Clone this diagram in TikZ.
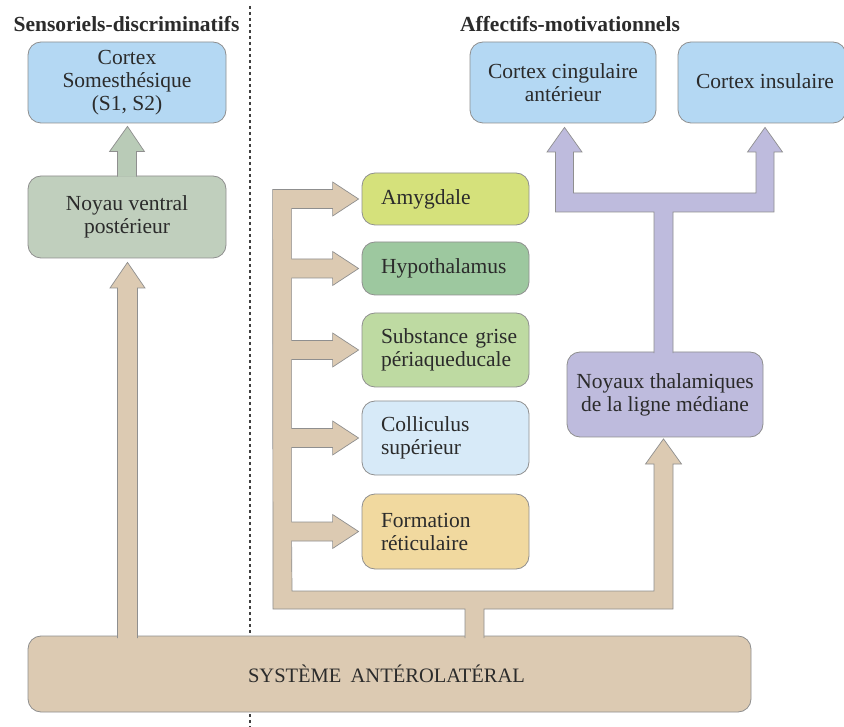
\documentclass[tikz,border=0pt]{standalone}
\usepackage{fontspec}
\setmainfont{Liberation Serif}
\usetikzlibrary{calc}
\definecolor{bluebox}{HTML}{B4D8F3}
\definecolor{nvpgreen}{HTML}{C0CFBD}
\definecolor{greenarrow}{HTML}{B9CBB7}
\definecolor{tanc}{HTML}{DCCAB2}
\definecolor{purplec}{HTML}{BEBBDD}
\definecolor{amyc}{HTML}{D5E17B}
\definecolor{hypc}{HTML}{9DC89F}
\definecolor{pagc}{HTML}{BEDAA2}
\definecolor{colc}{HTML}{D7EAF8}
\definecolor{retc}{HTML}{F1D99F}
\definecolor{bordc}{HTML}{8F8F8F}
\definecolor{txtc}{HTML}{2B2B2B}
\tikzset{
  boxbase/.style={draw=bordc, line width=0.8pt, rounded corners=13pt, inner sep=0pt, text=txtc, align=center},
  leftbox/.style={draw=bordc, line width=0.8pt, rounded corners=13pt, inner xsep=19pt, inner ysep=0pt,
     text width=129pt, align=left, text=txtc, minimum width=167pt},
  blockarrow/.style={draw=bordc, line width=0.7pt, line join=miter},
  titletext/.style={font=\fontsize{21.5}{23}\selectfont\bfseries, text=txtc, inner sep=0pt},
  sepline/.style={draw=black!75, line width=1.7pt, dash pattern=on 3.2pt off 2.8pt}
}
% tan branch towards a box on the right column
\newcommand\tanbranch[2]{-- ($(#1.west)+(#2,-9.5)$) -- ($(#1.west)+(-29,-9.5)$) -- ($(#1.west)+(-29,-17)$) -- ($(#1.west)+(-3,0)$) -- ($(#1.west)+(-29,17)$) -- ($(#1.west)+(-29,9.5)$) -- ($(#1.west)+(-70,9.5)$)}
\begin{document}
\begin{tikzpicture}[x=1pt,y=-1pt,font=\fontsize{21.5}{23}\selectfont]
\useasboundingbox[fill=white] (0,0) rectangle (844,727);

% dotted separator
\draw[sepline] (250,6) -- (250,727);

% titles
\node[titletext] (tleft) at (126.5,24.5) {Sensoriels-discriminatifs};
\node[titletext] (tright) at (570,24.5) {Affectifs-motivationnels};

% left column
\node[boxbase, fill=bluebox, minimum width=198pt, minimum height=81pt] (css) at (127,82.5)
  {Cortex\\Somesthésique\\(S1, S2)};
\node[boxbase, fill=nvpgreen, minimum width=198pt, minimum height=82pt] (nvp) at (127,217)
  {Noyau ventral\\postérieur};

% bottom box
\node[boxbase, fill=tanc, minimum width=723pt, minimum height=76pt] (sys) at (389.5,674) {};
\node[text=txtc, inner sep=0pt, font=\fontsize{20.5}{23}\selectfont] (systxt) at ($(sys.center)+(-3,0)$) {SYSTÈME\hspace{0.45em}ANTÉROLATÉRAL};

% top right cortices
\node[boxbase, fill=bluebox, minimum width=186pt, minimum height=81pt] (cca) at (563,82.5)
  {Cortex cingulaire\\antérieur};
\node[boxbase, fill=bluebox, minimum width=168pt, minimum height=81pt] (cins) at (762,82.5) {};
\node[text=txtc, inner sep=0pt] (cinstxt) at ($(cins.center)+(3,-1)$) {Cortex insulaire};

% thalamic nuclei
\node[boxbase, fill=purplec, minimum width=196pt, minimum height=85pt] (ntm) at (665,394.5)
  {Noyaux thalamiques\\de la ligne médiane};

% middle column
\node[leftbox, fill=amyc, minimum height=52pt] (amy) at (445.5,199) {Amygdale};
\node[leftbox, fill=hypc, minimum height=53pt] (hyp) at (445.5,268.5) {Hypothalamus};
\node[leftbox, fill=pagc, minimum height=74pt] (pag) at (445.5,350) {Substance~grise\\périaqueducale};
\node[leftbox, fill=colc, minimum height=74pt] (col) at (445.5,438) {Colliculus\\supérieur};
\node[leftbox, fill=retc, minimum height=75pt] (ret) at (445.5,531.5) {Formation\\réticulaire};

% green arrow NVP -> cortex somesthesique
\filldraw[blockarrow, fill=greenarrow]
  ($(nvp.north)+(-9.5,1)$) -- ($(nvp.north)+(-9.5,-24)$) -- ($(nvp.north)+(-17.5,-24)$)
  -- ($(css.south)+(0.5,3)$) -- ($(nvp.north)+(17.5,-24)$) -- ($(nvp.north)+(9.5,-24)$)
  -- ($(nvp.north)+(9.5,1)$);

% tan arrow system -> NVP
\filldraw[blockarrow, fill=tanc]
  (117.5,638) -- (117.5,288) -- (110,288) -- ($(nvp.south)+(0.5,4)$) -- (145,288) -- (137.5,288) -- (137.5,638);

% tan tree system -> middle column and thalamic nuclei
\filldraw[blockarrow, fill=tanc]
  (465,638) -- (465,609) -- (273,609)
  \tanbranch{amy}{-89}
  \tanbranch{hyp}{-70}
  \tanbranch{pag}{-70}
  \tanbranch{col}{-70}
  \tanbranch{ret}{-70}
  -- (292,591) -- (654,591) -- (654,464) -- (645.5,464) -- ($(ntm.south)+(-1.5,1.5)$)
  -- (681.5,464) -- (673,464) -- (673,609) -- (484,609) -- (484,638);

% purple tree thalamic nuclei -> cortices
\filldraw[blockarrow, fill=purplec]
  ($(ntm.north)+(-11,1.5)$) -- (654,212) -- (555.5,212) -- (555.5,152) -- (547,152)
  -- ($(cca.south)+(1.5,4)$) -- (582,152) -- (573.5,152) -- (573.5,193) -- (756,193)
  -- (756,152) -- (747.5,152) -- ($(cins.south)+(3,4)$) -- (782.5,152) -- (774,152)
  -- (774,212) -- (673,212) -- ($(ntm.north)+(8,1.5)$);
\end{tikzpicture}
\end{document}
